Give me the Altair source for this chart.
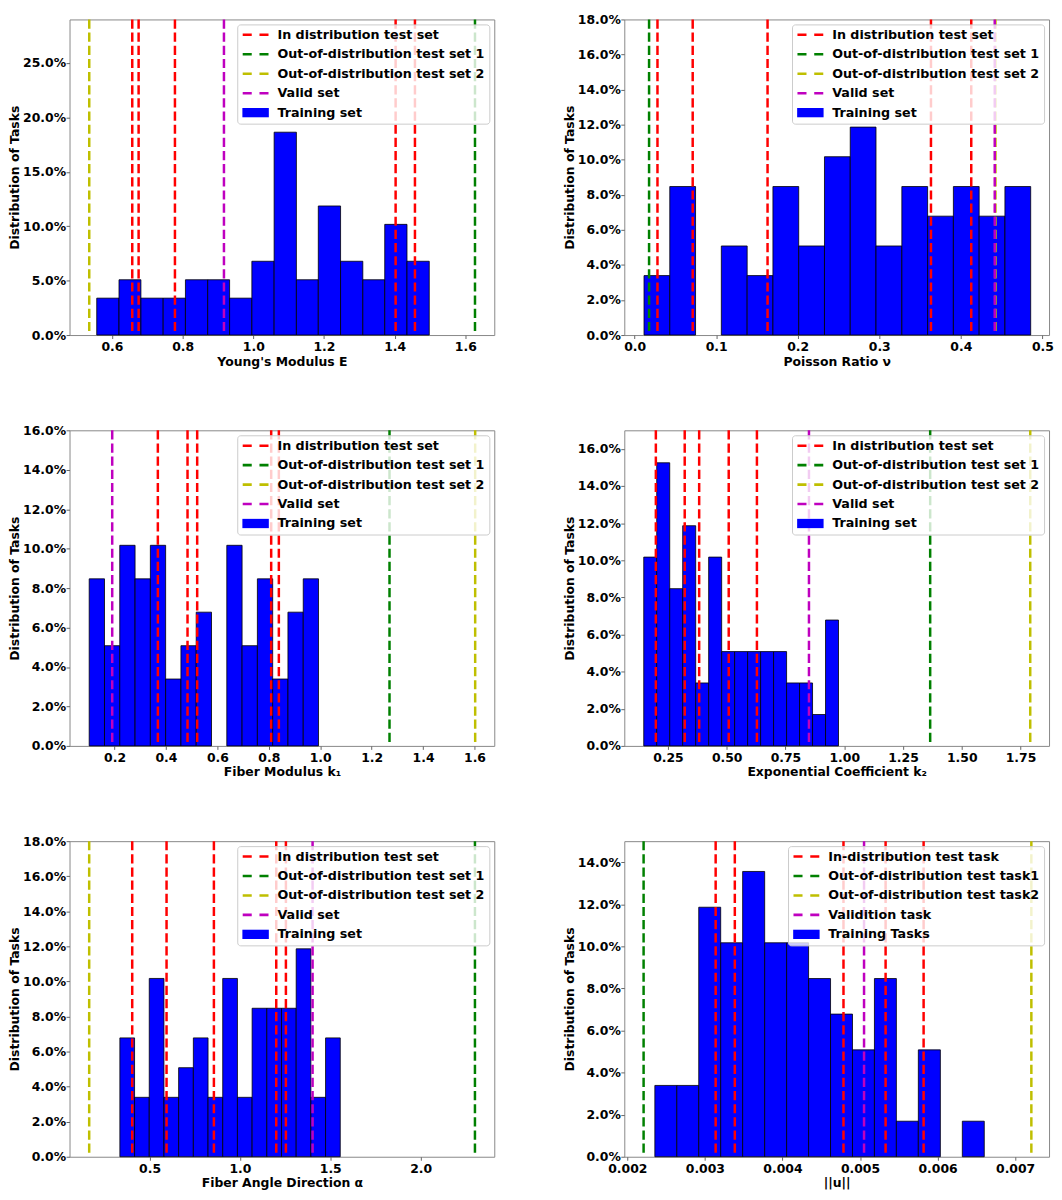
import altair as alt
import pandas as pd

FONT = "DejaVu Sans"

# ---------------- legend texts / colours ----------------
LABELS_SET = ["In distribution test set", "Out-of-distribution test set 1",
              "Out-of-distribution test set 2", "Valid set", "Training set"]
LABELS_TASK = ["In-distribution test task", "Out-of-distribution test task1",
               "Out-of-distribution test task2", "Validition task", "Training Tasks"]
COLORS = ["#ff0000", "#008000", "#bfbf00", "#bf00bf", "#0000ff"]
DASH_PATH = "M-2,-0.2H-0.6V0.2H-2Z M0.6,-0.2H2V0.2H0.6Z"
RECT_PATH = "M-2.05,-0.72H2.05V0.72H-2.05Z"

# ---------------- Panel 1: Young's modulus ----------------
E_edges = [0.557, 0.620, 0.682, 0.745, 0.808, 0.871, 0.933, 0.996, 1.059,
           1.122, 1.184, 1.247, 1.310, 1.372, 1.435, 1.498]
E_pct = [3.39, 5.08, 3.39, 3.39, 5.08, 5.08, 3.39, 6.78, 18.64, 5.08,
         11.86, 6.78, 5.08, 10.17, 6.78]
E_in = [0.6575, 0.6755, 0.7783, 1.4028, 1.4575]
E_ood1 = [1.6274]
E_ood2 = [0.5358]
E_valid = [0.917]

# ---------------- Panel 2: Poisson ratio ----------------
NU_edges = [0.0115, 0.0431, 0.0747, 0.1063, 0.1380, 0.1696, 0.2012, 0.2328,
            0.2644, 0.2960, 0.3277, 0.3593, 0.3909, 0.4225, 0.4541, 0.4857]
NU_pct = [3.39, 8.47, 0, 5.08, 3.39, 8.47, 5.08, 10.17, 11.86, 5.08,
          8.47, 6.78, 8.47, 6.78, 8.47]
NU_in = [0.028, 0.0712, 0.163, 0.3634, 0.4128]
NU_ood1 = [0.0177]
NU_ood2 = [0.4425]
NU_valid = [0.4416]

# ---------------- Panel 3: fiber modulus k1 ----------------
K1_edges = [0.1015, 0.1610, 0.2204, 0.2799, 0.3394, 0.3988, 0.4583, 0.5177,
            0.5772, 0.6367, 0.6961, 0.7556, 0.8151, 0.8745, 0.9340, 0.9934]
K1_pct = [8.47, 5.08, 10.17, 8.47, 10.17, 3.39, 5.08, 6.78, 0, 10.17,
          5.08, 8.47, 3.39, 6.78, 8.47]
K1_in = [0.3685, 0.4839, 0.5215, 0.8093, 0.8391]
K1_ood1 = [1.2695]
K1_ood2 = [1.6027]
K1_valid = [0.191]

# ---------------- Panel 4: exponential coefficient k2 ----------------
K2_edges = [0.1471, 0.2023, 0.2576, 0.3128, 0.3681, 0.4233, 0.4786, 0.5338,
            0.5890, 0.6443, 0.6995, 0.7548, 0.8100, 0.8652, 0.9205, 0.9757]
K2_pct = [10.17, 15.25, 8.47, 11.86, 3.39, 10.17, 5.08, 5.08, 5.08, 5.08,
          5.08, 3.39, 3.39, 1.69, 6.78]
K2_in = [0.1986, 0.3214, 0.3829, 0.5086, 0.6286]
K2_ood1 = [1.3657]
K2_ood2 = [1.7914]
K2_valid = [0.85]

# ---------------- Panel 5: fiber angle alpha ----------------
AL_edges = [0.3358, 0.4171, 0.4984, 0.5797, 0.6610, 0.7424, 0.8237, 0.9050,
            0.9863, 1.0676, 1.1489, 1.2302, 1.3115, 1.3928, 1.4741, 1.5554]
AL_pct = [6.78, 3.39, 10.17, 3.39, 5.08, 6.78, 3.39, 10.17, 3.39, 8.47,
          8.47, 8.47, 11.86, 3.39, 6.78]
AL_in = [0.4041, 0.5941, 0.8561, 1.2011, 1.2546]
AL_ood1 = [2.3007]
AL_ood2 = [0.166]
AL_valid = [1.4022]

# ---------------- Panel 6: ||u|| ----------------
U_edges = [0.002355, 0.002638, 0.002921, 0.003204, 0.003487, 0.003771,
           0.004054, 0.004337, 0.004620, 0.004903, 0.005186, 0.005469,
           0.005752, 0.006036, 0.006319, 0.006602]
U_pct = [3.39, 3.39, 11.86, 10.17, 13.56, 10.17, 10.17, 8.47, 6.78, 5.08,
         8.47, 1.69, 5.08, 0, 1.69]
U_in = [0.003139, 0.003386, 0.004787, 0.005330, 0.005820]
U_ood1 = [0.00221]
U_ood2 = [0.007209]
U_valid = [0.005052]

W, H = 428, 318


def panel(edges, pct, lin, lood1, lood2, lvalid, labels, xtitle,
          xdomain, xticks, xfmt, ytop, yticks):
    bars = pd.DataFrame({
        "x0": edges[:-1], "x1": edges[1:],
        "pct": [p / 100 for p in pct]})
    bars = bars[bars["pct"] > 0]
    keys = pd.DataFrame({"x": [xdomain[0]] * 5, "y": [-1.0] * 5, "set": labels})

    xs = alt.Scale(domain=xdomain, nice=False, zero=False)
    ys = alt.Scale(domain=[0, ytop], nice=False, zero=True)
    cs = alt.Scale(domain=labels, range=COLORS)
    ss = alt.Scale(domain=labels, range=[DASH_PATH] * 4 + [RECT_PATH])
    xaxis = alt.Axis(values=xticks, format=xfmt)
    yaxis = alt.Axis(values=yticks, format=".1%")
    leg = alt.Legend(
        title=None, orient="top-right", offset=5, padding=4,
        fillColor="rgba(255,255,255,0.8)", strokeColor="#cccccc",
        cornerRadius=3, symbolSize=169, symbolStrokeWidth=0,
        symbolOpacity=1, symbolOffset=8, labelOffset=15.5,
        labelFont=FONT, labelFontSize=12.8, labelFontWeight="bold",
        labelColor="black", rowPadding=5.6, labelLimit=400)

    X = lambda f: alt.X(f, scale=xs, axis=xaxis, title=xtitle)
    Y = lambda f: alt.Y(f, scale=ys, axis=yaxis, title="Distribution of Tasks")

    layers = [
        alt.Chart(bars).mark_bar(color=COLORS[4], stroke="black", strokeWidth=0.8)
        .encode(x=X("x0:Q"), x2="x1:Q", y=Y("pct:Q"), y2=alt.datum(0))
    ]
    for vals, col in zip([lin, lood1, lood2, lvalid], COLORS[:4]):
        layers.append(
            alt.Chart(pd.DataFrame({"x": vals}))
            .mark_rule(color=col, strokeWidth=2.5, strokeDash=[9.25, 4])
            .encode(x=X("x:Q"))
        )
    layers.append(
        alt.Chart(keys).mark_point(filled=True, opacity=1, clip=True).encode(
            x=X("x:Q"), y=Y("y:Q"),
            color=alt.Color("set:N", scale=cs, legend=leg),
            shape=alt.Shape("set:N", scale=ss, legend=leg),
        )
    )
    return alt.layer(*layers).properties(width=W, height=H)


p1 = panel(E_edges, E_pct, E_in, E_ood1, E_ood2, E_valid, LABELS_SET,
           "Young's Modulus E", [0.480, 1.682], [0.6, 0.8, 1.0, 1.2, 1.4, 1.6],
           ".1f", 0.29, [0, 0.05, 0.10, 0.15, 0.20, 0.25])
p2 = panel(NU_edges, NU_pct, NU_in, NU_ood1, NU_ood2, NU_valid, LABELS_SET,
           "Poisson Ratio ν", [-0.0127, 0.5082], [0.0, 0.1, 0.2, 0.3, 0.4, 0.5],
           ".1f", 0.18, [0, 0.02, 0.04, 0.06, 0.08, 0.10, 0.12, 0.14, 0.16, 0.18])
p3 = panel(K1_edges, K1_pct, K1_in, K1_ood1, K1_ood2, K1_valid, LABELS_SET,
           "Fiber Modulus k₁", [0.025, 1.677], [0.2, 0.4, 0.6, 0.8, 1.0, 1.2, 1.4, 1.6],
           ".1f", 0.16, [0, 0.02, 0.04, 0.06, 0.08, 0.10, 0.12, 0.14, 0.16])
p4 = panel(K2_edges, K2_pct, K2_in, K2_ood1, K2_ood2, K2_valid, LABELS_SET,
           "Exponential Coefficient k₂", [0.0643, 1.8714],
           [0.25, 0.5, 0.75, 1.0, 1.25, 1.5, 1.75],
           ".2f", 0.17, [0, 0.02, 0.04, 0.06, 0.08, 0.10, 0.12, 0.14, 0.16])
p5 = panel(AL_edges, AL_pct, AL_in, AL_ood1, AL_ood2, AL_valid, LABELS_SET,
           "Fiber Angle Direction α", [0.0572, 2.4077], [0.5, 1.0, 1.5, 2.0],
           ".1f", 0.18, [0, 0.02, 0.04, 0.06, 0.08, 0.10, 0.12, 0.14, 0.16, 0.18])
p6 = panel(U_edges, U_pct, U_in, U_ood1, U_ood2, U_valid, LABELS_TASK,
           "||u||", [0.001961, 0.007437],
           [0.002, 0.003, 0.004, 0.005, 0.006, 0.007],
           ".3f", 0.15, [0, 0.02, 0.04, 0.06, 0.08, 0.10, 0.12, 0.14])

chart = (
    alt.concat(p1, p2, p3, p4, p5, p6, columns=2, bounds="flush",
               spacing={"row": 96, "column": 131})
    .resolve_scale(color="independent", shape="independent")
    .properties(padding={"left": 0, "top": 0, "right": 0, "bottom": 0})
    .configure_view(stroke="#888888", strokeWidth=1)
    .configure_axis(
        domain=False, grid=False, tickColor="#666666", tickSize=3.5,
        labelFont=FONT, labelFontSize=12.5, labelFontWeight="bold",
        labelColor="black", titleFont=FONT, titleFontSize=12.5,
        titleFontWeight="bold", titleColor="black", labelFlush=False,
        labelOverlap=False)
    .configure_axisX(labelPadding=2.2, titlePadding=2)
    .configure_axisY(labelPadding=0.5, titlePadding=1)
)

chart.save("out.html", embed_options={"renderer": "svg", "actions": False})
